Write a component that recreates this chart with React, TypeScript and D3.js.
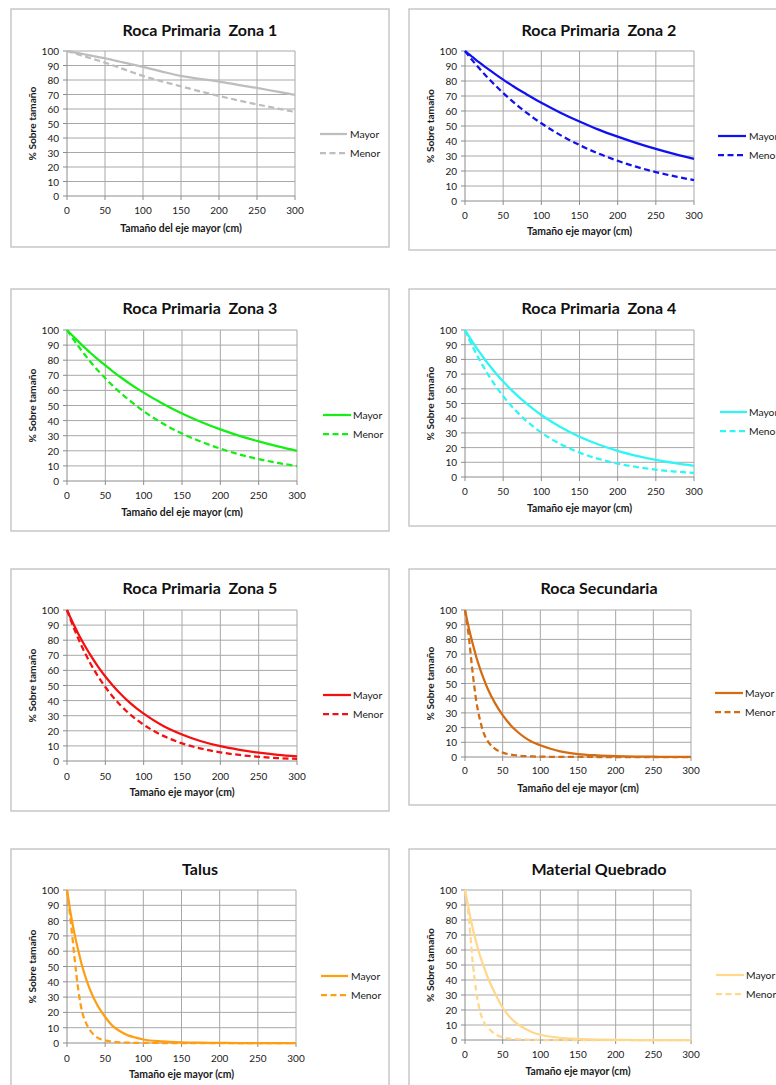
import React, { useRef, useEffect } from "react";
import * as d3 from "d3";

// tamaño (cm) sampled along the x axis
const sizes = [0, 5, 10, 15, 20, 25, 30, 40, 50, 60, 70, 80, 90, 100, 125, 150, 175, 200, 225, 250, 275, 300];
const xTicks = [0, 50, 100, 150, 200, 250, 300];
const yTicks = [0, 10, 20, 30, 40, 50, 60, 70, 80, 90, 100];
const seriesNames = ["Mayor", "Menor"];

const zona1Mayor = [100, 99.5, 99, 98.5, 98, 97.5, 97, 96, 95, 93.8, 92.6, 91.4, 90.2, 89, 85.8, 82.8, 80.8, 78.9, 76.7, 74.5, 72.1, 69.7];
const zona1Menor = [100, 99.2, 98.4, 97.6, 96.8, 96, 95.2, 93.6, 92, 90.2, 88.3, 86.4, 84.6, 82.8, 79.1, 75.6, 72.2, 69, 66, 63.2, 60.5, 58];
const zona2Mayor = [100, 97.9, 95.9, 93.8, 91.9, 89.9, 88.1, 84.4, 80.9, 77.6, 74.3, 71.3, 68.3, 65.5, 58.9, 53.0, 47.6, 42.9, 38.6, 34.7, 31.2, 28.1];
const zona2Menor = [100, 96.8, 93.6, 90.6, 87.7, 84.8, 82.1, 76.9, 72.0, 67.4, 63.1, 59.1, 55.3, 51.8, 43.9, 37.3, 31.6, 26.8, 22.7, 19.3, 16.4, 13.9];
const zona3Mayor = [100, 97.4, 94.8, 92.3, 89.8, 87.5, 85.1, 80.7, 76.5, 72.5, 68.7, 65.1, 61.7, 58.5, 51.2, 44.7, 39.1, 34.2, 29.9, 26.2, 22.9, 20.0];
const zona3Menor = [100, 96.2, 92.6, 89.1, 85.7, 82.5, 79.3, 73.4, 68.0, 62.9, 58.3, 54.0, 50.0, 46.2, 38.1, 31.4, 26.0, 21.4, 17.6, 14.5, 12.0, 9.9];
const zona4Mayor = [100, 95.8, 91.7, 87.9, 84.2, 80.6, 77.2, 70.8, 65.0, 59.6, 54.7, 50.2, 46.0, 42.2, 34.0, 27.4, 22.1, 17.8, 14.4, 11.6, 9.4, 7.6];
const zona4Menor = [100, 94.2, 88.7, 83.6, 78.7, 74.2, 69.9, 62.0, 55.0, 48.8, 43.3, 38.4, 34.1, 30.2, 22.4, 16.6, 12.3, 9.1, 6.8, 5.0, 3.7, 2.8];
const zona5Mayor = [100, 94.4, 89.0, 84.0, 79.3, 74.8, 70.6, 62.9, 56.0, 49.9, 44.4, 39.5, 35.2, 31.4, 23.4, 17.6, 13.1, 9.8, 7.4, 5.5, 4.1, 3.1];
const zona5Menor = [100, 93.1, 86.7, 80.7, 75.1, 70.0, 65.1, 56.5, 49.0, 42.4, 36.8, 31.9, 27.7, 24.0, 16.8, 11.7, 8.2, 5.7, 4.0, 2.8, 1.9, 1.4];
const secundariaMayor = [100, 88, 77.5, 68, 60, 53, 46.6, 36.5, 28.5, 22, 17, 13, 10, 8, 4, 2, 1.1, 0.6, 0.3, 0.2, 0.1, 0.1];
const secundariaMenor = [100, 82, 58, 38, 25, 16, 11, 5.5, 3, 1.7, 1, 0.6, 0.4, 0.25, 0.1, 0.05, 0, 0, 0, 0, 0, 0];
const talusMayor = [100, 84, 71, 60, 50, 42, 35, 24.5, 17, 11, 7.5, 5, 3.5, 2.3, 1, 0.4, 0.2, 0.1, 0, 0, 0, 0];
const talusMenor = [100, 79, 55, 34, 20, 13, 8.5, 3.5, 1.7, 0.8, 0.4, 0.2, 0.1, 0.05, 0, 0, 0, 0, 0, 0, 0, 0];
const quebradoMayor = [100, 87, 75, 65, 56, 49, 42, 31, 21.5, 15, 10.5, 7.5, 5, 3.5, 1.5, 0.7, 0.3, 0.1, 0, 0, 0, 0];
const quebradoMenor = [100, 82, 53, 32, 19, 12, 8.5, 4, 1.8, 0.9, 0.5, 0.3, 0.1, 0, 0, 0, 0, 0, 0, 0, 0, 0];

const titles = [
  "Roca Primaria  Zona 1", "Roca Primaria  Zona 2",
  "Roca Primaria  Zona 3", "Roca Primaria  Zona 4",
  "Roca Primaria  Zona 5", "Roca Secundaria",
  "Talus", "Material Quebrado",
];
const xTitles = [
  "Tamaño del eje mayor (cm)", "Tamaño eje mayor (cm)",
  "Tamaño del eje mayor (cm)", "Tamaño eje mayor (cm)",
  "Tamaño eje mayor (cm)", "Tamaño del eje mayor (cm)",
  "Tamaño eje mayor (cm)", "Tamaño eje mayor (cm)",
];
const yTitle = "% Sobre tamaño";
const colors = ["#bdbdbd", "#1010f0", "#14ee14", "#2ff5f5", "#f41010", "#d36c12", "#ff9e12", "#ffd88e"];
const mayorSeries = [zona1Mayor, zona2Mayor, zona3Mayor, zona4Mayor, zona5Mayor, secundariaMayor, talusMayor, quebradoMayor];
const menorSeries = [zona1Menor, zona2Menor, zona3Menor, zona4Menor, zona5Menor, secundariaMenor, talusMenor, quebradoMenor];

// where each chart sits on the page
const layout = [
  { box: [11, 9, 378, 238], plot: [67, 295, 51, 196], title: 29, xLab: 210, xTitle: 228, yTitle: 32, legend: [320, 347, 350, 134, 153] },
  { box: [409, 9, 380, 241], plot: [465, 694, 51, 201], title: 29, xLab: 215, xTitle: 231, yTitle: 430, legend: [718, 746, 749, 136, 155] },
  { box: [11, 289, 378, 242], plot: [67, 297, 330, 481], title: 307, xLab: 495, xTitle: 512, yTitle: 32, legend: [323, 351, 353, 415, 434] },
  { box: [409, 289, 380, 237], plot: [465, 694, 330, 477], title: 307, xLab: 491, xTitle: 508, yTitle: 430, legend: [720, 747, 749, 412, 431] },
  { box: [11, 569, 378, 242], plot: [67, 297, 610, 761], title: 587, xLab: 776, xTitle: 792, yTitle: 32, legend: [323, 351, 353, 695, 714] },
  { box: [409, 569, 380, 236], plot: [465, 691, 610, 757], title: 587, xLab: 770, xTitle: 788, yTitle: 430, legend: [715, 743, 745, 693, 712] },
  { box: [11, 849, 378, 250], plot: [67, 296, 890, 1043], title: 868, xLab: 1058, xTitle: 1074, yTitle: 32, legend: [321, 348, 351, 976, 995] },
  { box: [409, 849, 380, 250], plot: [465, 691, 890, 1040], title: 868, xLab: 1054, xTitle: 1071, yTitle: 430, legend: [716, 744, 746, 975, 994] },
];

const FONT = "Lato, 'Open Sans', sans-serif";
const GRID = "#a8a8a8";
const DASH = "6,3.5";

const App = () => {
  const svgRef = useRef(null);

  useEffect(() => {
    const svg = d3.select(svgRef.current);
    svg.selectAll("*").remove();

    layout.forEach((p, i) => {
      const g = svg.append("g");
      const [bx, by, bw, bh] = p.box;
      const [x0, x1, y1, y0] = p.plot;

      g.append("rect")
        .attr("x", bx).attr("y", by).attr("width", bw).attr("height", bh)
        .attr("fill", "#fff").attr("stroke", "#c4c4c4").attr("stroke-width", 1.4);

      const x = d3.scaleLinear().domain([0, 300]).range([x0, x1]);
      const y = d3.scaleLinear().domain([0, 100]).range([y0, y1]);

      // gridlines
      g.selectAll(".hg").data(yTicks.filter(v => v > 0)).join("line")
        .attr("x1", x0).attr("x2", x1)
        .attr("y1", d => y(d)).attr("y2", d => y(d))
        .attr("stroke", GRID).attr("stroke-width", 1);
      g.selectAll(".vg").data(xTicks.filter(v => v > 0)).join("line")
        .attr("x1", d => x(d)).attr("x2", d => x(d))
        .attr("y1", y1).attr("y2", y0)
        .attr("stroke", GRID).attr("stroke-width", 1);

      // axes
      g.append("line").attr("x1", x0).attr("x2", x0).attr("y1", y1).attr("y2", y0)
        .attr("stroke", "#8c8c8c").attr("stroke-width", 1);
      g.append("line").attr("x1", x0).attr("x2", x1).attr("y1", y0).attr("y2", y0)
        .attr("stroke", "#8c8c8c").attr("stroke-width", 1);
      g.selectAll(".yt").data(yTicks).join("line")
        .attr("x1", x0 - 4).attr("x2", x0)
        .attr("y1", d => y(d)).attr("y2", d => y(d))
        .attr("stroke", "#8c8c8c");
      g.selectAll(".xt").data(xTicks).join("line")
        .attr("x1", d => x(d)).attr("x2", d => x(d))
        .attr("y1", y0).attr("y2", y0 + 4)
        .attr("stroke", "#8c8c8c");

      g.selectAll(".yl").data(yTicks).join("text")
        .attr("x", x0 - 8).attr("y", d => y(d))
        .attr("text-anchor", "end").attr("dominant-baseline", "central")
        .attr("font-family", FONT).attr("font-size", 10).attr("fill", "#1a1a1a")
        .text(d => d);
      g.selectAll(".xl").data(xTicks).join("text")
        .attr("x", d => x(d)).attr("y", p.xLab)
        .attr("text-anchor", "middle").attr("dominant-baseline", "central")
        .attr("font-family", FONT).attr("font-size", 10).attr("fill", "#1a1a1a")
        .text(d => d);

      // titles
      g.append("text")
        .attr("x", bx + bw / 2).attr("y", p.title)
        .attr("text-anchor", "middle").attr("dominant-baseline", "central")
        .attr("font-family", FONT).attr("font-size", 16).attr("font-weight", "bold")
        .attr("fill", "#111").style("white-space", "pre")
        .text(titles[i]);
      g.append("text")
        .attr("x", (x0 + x1) / 2).attr("y", p.xTitle)
        .attr("text-anchor", "middle").attr("dominant-baseline", "central")
        .attr("font-family", FONT).attr("font-size", 10.4).attr("font-weight", "bold")
        .attr("fill", "#1a1a1a")
        .text(xTitles[i]);
      g.append("text")
        .attr("transform", `translate(${p.yTitle},${(y0 + y1) / 2}) rotate(-90)`)
        .attr("text-anchor", "middle").attr("dominant-baseline", "central")
        .attr("font-family", FONT).attr("font-size", 10.2).attr("font-weight", "bold")
        .attr("fill", "#1a1a1a")
        .text(yTitle);

      // curves
      const line = d3.line()
        .x((d, k) => x(sizes[k]))
        .y(d => y(d))
        .curve(d3.curveMonotoneX);

      [mayorSeries[i], menorSeries[i]].forEach((vals, s) => {
        g.append("path")
          .attr("d", line(vals))
          .attr("fill", "none")
          .attr("stroke", colors[i])
          .attr("stroke-width", 2.25)
          .attr("stroke-dasharray", s === 1 ? DASH : null);
      });

      // legend (right column is cut by the page edge, as in the original)
      const [lx0, lx1, tx, ly0, ly1] = p.legend;
      [ly0, ly1].forEach((ly, s) => {
        g.append("line")
          .attr("x1", lx0).attr("x2", lx1).attr("y1", ly).attr("y2", ly)
          .attr("stroke", colors[i]).attr("stroke-width", 2.25)
          .attr("stroke-dasharray", s === 1 ? DASH : null);
        g.append("text")
          .attr("x", tx).attr("y", ly)
          .attr("dominant-baseline", "central")
          .attr("font-family", FONT).attr("font-size", 10.3).attr("fill", "#1a1a1a")
          .text(seriesNames[s]);
      });
    });
  }, []);

  return (
    <div style={{ position: "absolute", left: 0, top: 0 }}>
      <svg ref={svgRef} width={776} height={1085} style={{ display: "block", background: "#fff" }}></svg>
    </div>
  );
};

export default App;
